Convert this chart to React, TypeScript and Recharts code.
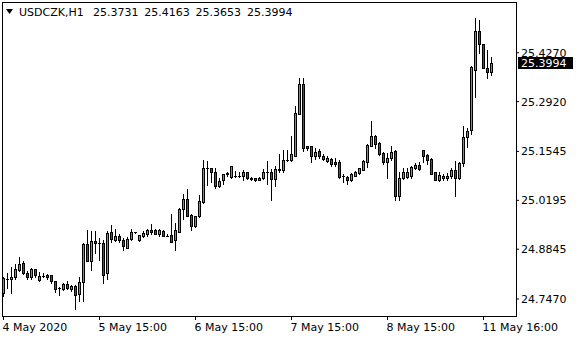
import React from 'react';
import { ComposedChart, Bar, XAxis, YAxis, ReferenceLine } from 'recharts';

const symbol = 'USDCZK,H1';
const lastQuote = [25.3731, 25.4163, 25.3653, 25.3994];

const opens = [
  24.7644, 24.8014, 24.8014, 24.8069, 24.8271, 24.8472, 24.8196, 24.8069, 24.829, 24.7995,
  24.8105, 24.8125, 24.8125, 24.7959, 24.7766, 24.7755, 24.7884, 24.7738, 24.7829, 24.7608,
  24.794, 24.8989, 24.8528, 24.908, 24.9025, 24.9025, 24.8196, 24.9312, 24.9107, 24.9201,
  24.9107, 24.8887, 24.9127, 24.9312, 24.9091, 24.9201, 24.9256, 24.9383, 24.9367, 24.9256,
  24.9348, 24.9218, 24.9237, 24.9091, 24.9328, 24.9955, 25.0231, 24.9789, 24.9494, 24.9753,
  25.0156, 25.1079, 25.1079, 25.0968, 25.0598, 25.0747, 25.0913, 25.0838, 25.0874, 25.0874,
  25.0874, 25.0968, 25.0819, 25.0802, 25.0764, 25.0802, 25.0968, 25.0968, 25.0783, 25.1023,
  25.1023, 25.1299, 25.1299, 25.1426, 25.2586, 25.3398, 25.1686, 25.1686, 25.141, 25.1556,
  25.1426, 25.128, 25.1335, 25.1261, 25.1261, 25.0858, 25.0838, 25.0764, 25.0874, 25.0949,
  25.104, 25.1261, 25.1703, 25.1979, 25.1777, 25.1501, 25.1244, 25.1355, 25.1556, 25.0306,
  25.0802, 25.0838, 25.0858, 25.1095, 25.117, 25.1576, 25.1446, 25.1335, 25.0968, 25.0764,
  25.0802, 25.0802, 25.0858, 25.1023, 25.0819, 25.1225, 25.1943, 25.2128, 25.3801, 25.4869,
  25.4502, 25.3839, 25.3731,
];

const highs = [
  24.8069, 24.818, 24.8345, 24.8436, 24.8621, 24.8528, 24.8235, 24.8326, 24.8307, 24.8216,
  24.818, 24.816, 24.8141, 24.7975, 24.7793, 24.7904, 24.7975, 24.7865, 24.7865, 24.8086,
  24.9016, 24.9375, 24.9356, 24.9356, 24.9154, 24.9099, 24.9356, 24.9513, 24.9394, 24.9256,
  24.9163, 24.9182, 24.9403, 24.932, 24.9237, 24.9348, 24.9403, 24.9533, 24.9403, 24.9403,
  24.9367, 24.9256, 24.9809, 24.9568, 24.9974, 25.0361, 25.0507, 24.9809, 24.977, 25.0341,
  25.1299, 25.128, 25.1079, 25.1079, 25.0802, 25.0929, 25.0968, 25.115, 25.1004, 25.0985,
  25.1023, 25.0968, 25.0838, 25.0819, 25.0838, 25.1059, 25.128, 25.1059, 25.1134, 25.1465,
  25.1592, 25.1592, 25.1962, 25.279, 25.358, 25.3563, 25.1686, 25.1703, 25.1631, 25.1611,
  25.1465, 25.141, 25.1355, 25.1355, 25.1299, 25.0929, 25.0874, 25.0949, 25.1004, 25.1095,
  25.1299, 25.1741, 25.2384, 25.1998, 25.1796, 25.152, 25.1501, 25.1686, 25.1576, 25.0968,
  25.1079, 25.1095, 25.1134, 25.1225, 25.1244, 25.1592, 25.1482, 25.1355, 25.0985, 25.0968,
  25.0913, 25.0949, 25.1079, 25.128, 25.1244, 25.2238, 25.2199, 25.3895, 25.5236, 25.5181,
  25.4502, 25.4353, 25.4163,
];

const lows = [
  24.7553, 24.7766, 24.7644, 24.8031, 24.8235, 24.816, 24.8014, 24.8014, 24.8069, 24.7975,
  24.8069, 24.8031, 24.792, 24.7663, 24.7589, 24.7719, 24.7738, 24.7683, 24.7202, 24.7407,
  24.7415, 24.8511, 24.8271, 24.8749, 24.8547, 24.7904, 24.8014, 24.9052, 24.9071, 24.9052,
  24.8831, 24.887, 24.9091, 24.9301, 24.9071, 24.9182, 24.9218, 24.9273, 24.9256, 24.9218,
  24.9201, 24.9201, 24.9036, 24.8831, 24.9312, 24.9679, 24.9753, 24.9367, 24.9458, 24.9734,
  25.0121, 25.0618, 25.0709, 25.0526, 25.0562, 25.0653, 25.0858, 25.0819, 25.0838, 25.0838,
  25.0764, 25.0783, 25.0764, 25.0728, 25.0747, 25.0783, 25.0653, 25.0212, 25.0582, 25.0968,
  25.0968, 25.128, 25.128, 25.141, 25.2569, 25.1556, 25.1576, 25.1244, 25.1335, 25.1355,
  25.1299, 25.1244, 25.1134, 25.1134, 25.0819, 25.0692, 25.0653, 25.0728, 25.0858, 25.0929,
  25.1023, 25.1114, 25.1686, 25.1647, 25.1446, 25.1189, 25.0802, 25.1299, 25.0212, 25.0212,
  25.0783, 25.0802, 25.0819, 25.1059, 25.1023, 25.1244, 25.1206, 25.0913, 25.0747, 25.0728,
  25.0764, 25.0764, 25.0819, 25.0322, 25.0783, 25.115, 25.1667, 25.2034, 25.3047, 25.4262,
  25.3839, 25.358, 25.3653,
];

const closes = [
  24.8042, 24.8014, 24.8069, 24.829, 24.8436, 24.8196, 24.8069, 24.829, 24.8125, 24.8105,
  24.8105, 24.8069, 24.7959, 24.7738, 24.7766, 24.7884, 24.7774, 24.7829, 24.7589, 24.794,
  24.8989, 24.8528, 24.908, 24.9008, 24.9025, 24.8141, 24.9284, 24.9127, 24.9201, 24.9091,
  24.8925, 24.9127, 24.9328, 24.9312, 24.9237, 24.9292, 24.9383, 24.9312, 24.9273, 24.9383,
  24.9218, 24.9218, 24.9052, 24.9383, 24.9955, 25.0231, 24.977, 24.9494, 24.9753, 25.0176,
  25.1079, 25.1079, 25.0968, 25.0582, 25.0728, 25.0913, 25.0949, 25.1134, 25.0874, 25.0874,
  25.0968, 25.0819, 25.0783, 25.0764, 25.0819, 25.0968, 25.0968, 25.0783, 25.1059, 25.1059,
  25.1299, 25.1299, 25.1465, 25.2605, 25.3398, 25.1647, 25.1631, 25.141, 25.152, 25.141,
  25.1335, 25.1355, 25.1206, 25.1206, 25.0838, 25.0858, 25.0764, 25.0913, 25.0985, 25.1079,
  25.128, 25.1722, 25.1979, 25.1758, 25.1482, 25.1244, 25.1371, 25.1537, 25.0306, 25.0802,
  25.0968, 25.0985, 25.1114, 25.117, 25.1059, 25.141, 25.1299, 25.0929, 25.0764, 25.0894,
  25.0858, 25.0874, 25.1023, 25.0819, 25.1225, 25.1943, 25.2108, 25.3875, 25.4869, 25.4502,
  25.3856, 25.3746, 25.3994,
];

const timeTicks = [0, 24, 48, 72, 96, 120];
const timeLabels = ['4 May 2020', '5 May 15:00', '6 May 15:00', '7 May 15:00', '8 May 15:00', '11 May 16:00'];
const priceTicks = [24.747, 24.8845, 25.0195, 25.1545, 25.292, 25.427];

const UP = '#38c038';
const DOWN = '#dc1414';
const FONT = 'DejaVu Sans';

const data = opens.map((open, i) => ({
  i,
  open,
  high: highs[i],
  low: lows[i],
  close: closes[i],
}));

function Candle(props: any) {
  const { x, y, width, height, payload } = props;
  const cx = Math.floor(x + width / 2) + 0.5;
  const top = Math.min(y, y + height);
  const h = Math.abs(height);
  const range = payload.high - payload.low;
  const k = range > 0 ? h / range : 0;
  const toY = (v: number) => top + (payload.high - v) * k;
  const yHigh = Math.round(top);
  const yLow = Math.round(top + h);
  const bTop = Math.round(toY(Math.max(payload.open, payload.close)));
  let bBot = Math.round(toY(Math.min(payload.open, payload.close)));
  if (bBot < bTop) bBot = bTop;
  const up = payload.close > payload.open;
  const down = payload.close < payload.open;
  return (
    <g>
      <rect x={cx - 0.5} y={yHigh} width={1} height={Math.max(1, yLow - yHigh + 1)} fill="#000" />
      <rect x={cx - 1.5} y={bTop} width={3} height={bBot - bTop + 1} fill="#000" />
      {bBot - bTop >= 2 && (up || down) && (
        <rect x={cx - 0.5} y={bTop + 1} width={1} height={bBot - bTop - 1} fill={up ? UP : DOWN} />
      )}
    </g>
  );
}

const PriceTick = ({ x, y, payload }: any) => (
  <text x={x} y={y} dy={4} fontSize={11} fontFamily={FONT} fill="#000">
    {payload.value.toFixed(4)}
  </text>
);

const TimeTick = ({ x, y, payload }: any) => (
  <text x={x - 1} y={y} dy={11} fontSize={11} fontFamily={FONT} fill="#000">
    {timeLabels[timeTicks.indexOf(payload.value)]}
  </text>
);

const PriceTag = (props: any) => {
  const vb = props.viewBox;
  if (!vb) return null;
  const left = vb.x + vb.width + 2;
  return (
    <g>
      <rect x={left} y={Math.round(vb.y) - 6} width={55} height={12} fill="#000" />
      <text x={left + 3} y={vb.y + 4} fontSize={11} fontFamily={FONT} fill="#fff">
        {lastQuote[3].toFixed(4)}
      </text>
    </g>
  );
};

export default function App() {
  return (
    <div style={{ position: 'absolute', left: 0, top: 0, width: 580, height: 340, background: '#fff', fontFamily: FONT }}>
      <ComposedChart width={580} height={340} data={data} margin={{ top: 2, right: 0, bottom: 0, left: 2 }}>
        <XAxis
          dataKey="i"
          type="number"
          domain={[-0.375, 128.125]}
          allowDataOverflow
          ticks={timeTicks}
          tick={<TimeTick />}
          tickSize={4}
          tickMargin={0}
          tickLine={{ stroke: '#000' }}
          axisLine={false}
          height={24}
          interval={0}
        />
        <YAxis
          orientation="right"
          type="number"
          domain={[24.7001, 25.567]}
          allowDataOverflow
          ticks={priceTicks}
          tick={<PriceTick />}
          tickSize={3}
          tickMargin={2}
          tickLine={{ stroke: '#000' }}
          axisLine={false}
          width={64}
          interval={0}
        />
        <Bar
          dataKey={(d: any) => [d.low, d.high]}
          barSize={3}
          shape={<Candle />}
          isAnimationActive={false}
        />
        <ReferenceLine y={lastQuote[3]} stroke="none" ifOverflow="visible" label={<PriceTag />} />
      </ComposedChart>
      <div
        style={{
          position: 'absolute',
          left: 2,
          top: 2,
          width: 515,
          height: 315,
          border: '1px solid #000',
          boxSizing: 'border-box',
          pointerEvents: 'none',
        }}
      />
      <svg width={580} height={20} style={{ position: 'absolute', left: 0, top: 0, pointerEvents: 'none' }}>
        <polygon points="6,9 13,9 9.5,14" fill="#000" />
        <text x={19} y={15.5} fontSize={11} fontFamily={FONT} fill="#000">{symbol}</text>
        {lastQuote.map((v, n) => (
          <text key={n} x={93 + n * 51.3} y={15.5} fontSize={11} fontFamily={FONT} fill="#000">
            {v.toFixed(4)}
          </text>
        ))}
      </svg>
    </div>
  );
}
